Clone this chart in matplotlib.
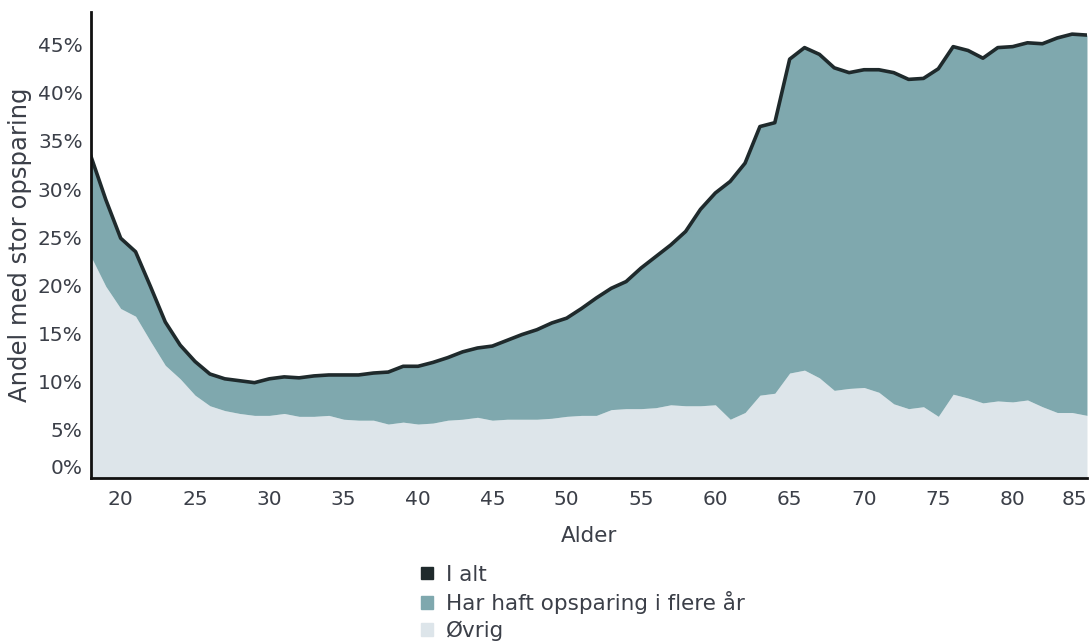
import matplotlib.pyplot as plt
from matplotlib.patches import Patch
from matplotlib.ticker import FuncFormatter

ages = list(range(18, 86))

# I alt (andel i %)
i_alt = [33.4, 28.9, 24.9, 23.5, 19.9, 16.2, 13.8, 12.1, 10.8, 10.3,
         10.1, 9.9, 10.3, 10.5, 10.4, 10.6, 10.7, 10.7, 10.7, 10.9,
         11.0, 11.6, 11.6, 12.0, 12.5, 13.1, 13.5, 13.7, 14.3, 14.9,
         15.4, 16.1, 16.6, 17.6, 18.7, 19.7, 20.4, 21.8, 23.0, 24.2,
         25.6, 27.9, 29.6, 30.8, 32.7, 36.5, 36.9, 43.5, 44.7, 44.0,
         42.6, 42.1, 42.4, 42.4, 42.1, 41.4, 41.5, 42.5, 44.8, 44.4,
         43.6, 44.7, 44.8, 45.2, 45.1, 45.7, 46.1, 46.0]

# Øvrig (andel i %)
ovrig = [23.0, 19.9, 17.6, 16.8, 14.2, 11.7, 10.3, 8.6, 7.5, 7.0,
         6.7, 6.5, 6.5, 6.7, 6.4, 6.4, 6.5, 6.1, 6.0, 6.0,
         5.6, 5.8, 5.6, 5.7, 6.0, 6.1, 6.3, 6.0, 6.1, 6.1,
         6.1, 6.2, 6.4, 6.5, 6.5, 7.1, 7.2, 7.2, 7.3, 7.6,
         7.5, 7.5, 7.6, 6.1, 6.8, 8.6, 8.8, 10.9, 11.2, 10.4,
         9.1, 9.3, 9.4, 8.9, 7.7, 7.2, 7.4, 6.4, 8.7, 8.3,
         7.8, 8.0, 7.9, 8.1, 7.4, 6.8, 6.8, 6.5]

x_ticks = [20, 25, 30, 35, 40, 45, 50, 55, 60, 65, 70, 75, 80, 85]
y_ticks = [0, 5, 10, 15, 20, 25, 30, 35, 40, 45]

c_total = '#1f2a2c'
c_flere = '#7fa8ae'
c_ovrig = '#dde5ea'
c_text = '#3b3f48'

plt.rcParams['font.family'] = ['DejaVu Sans']

fig = plt.figure(figsize=(10.92, 6.44), dpi=100)
ax = fig.add_axes([0.0833, 0.2578, 0.9121, 0.7236])

ax.fill_between(ages, 0, ovrig, color=c_ovrig, linewidth=0)
ax.fill_between(ages, ovrig, i_alt, color=c_flere, linewidth=0)
ax.plot(ages, i_alt, color=c_total, linewidth=2.6, solid_joinstyle='round')

ax.set_xlim(18, 85)
ax.set_ylim(0, 48.4)
ax.set_xticks(x_ticks)
ax.set_yticks(y_ticks)
ax.yaxis.set_major_formatter(FuncFormatter(lambda v, p: f'{v:.0f}%'))
ax.tick_params(length=0, labelsize=14.5, labelcolor=c_text, pad=6)
ax.tick_params(axis='x', pad=9)

# edge labels pushed inwards like the original
ax.get_xticklabels()[-1].set_horizontalalignment('right')
ax.get_yticklabels()[0].set_verticalalignment('bottom')

for s in ['top', 'right']:
    ax.spines[s].set_visible(False)
for s in ['left', 'bottom']:
    ax.spines[s].set_linewidth(2)
    ax.spines[s].set_color('#111111')
    ax.spines[s].set_zorder(5)

ax.set_xlabel('Alder', fontsize=15.5, color=c_text, labelpad=12)
ax.set_ylabel('Andel med stor opsparing', fontsize=17.5, color=c_text, labelpad=4)

handles = [Patch(color=c_total, label='I alt'),
           Patch(color=c_flere, label='Har haft opsparing i flere år'),
           Patch(color=c_ovrig, label='Øvrig')]
leg = fig.legend(handles=handles, loc='upper left', bbox_to_anchor=(0.376, 0.140),
                 frameon=False, fontsize=15.5, handlelength=0.55, handleheight=0.55,
                 handletextpad=0.6, labelspacing=0.3, borderpad=0)
for t in leg.get_texts():
    t.set_color(c_text)

fig.savefig('out.png', dpi=100)
